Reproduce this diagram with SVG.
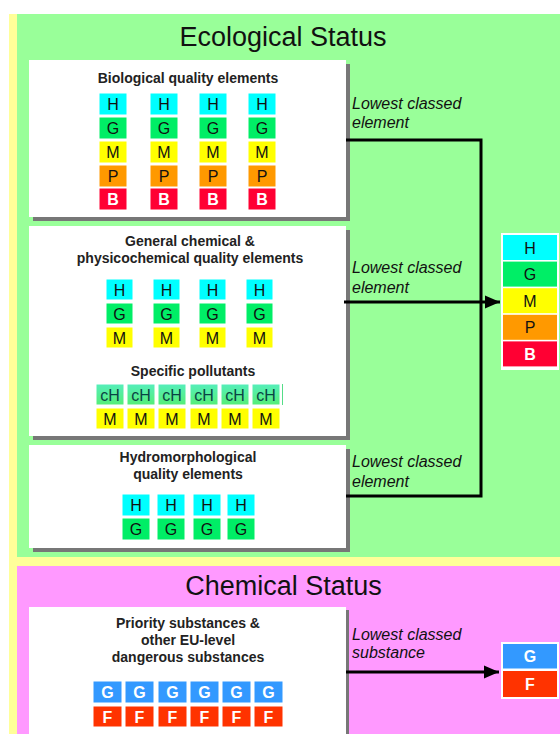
<svg xmlns="http://www.w3.org/2000/svg" width="560" height="734" viewBox="0 0 560 734">
<defs>
<linearGradient id="gh" x1="0" y1="0" x2="0" y2="1"><stop offset="0" stop-color="#55EEBB"/><stop offset="1" stop-color="#55EE77"/></linearGradient>
<marker id="ah" markerWidth="6" markerHeight="5" refX="5" refY="2.2" orient="auto" markerUnits="strokeWidth"><path d="M0,0 L5,2.2 L0,4.4 Z" fill="#000"/></marker>
</defs>
<style>
text{font-family:"Liberation Sans",Arial,sans-serif}
.title{font-size:27px;fill:#111;text-anchor:middle}
.bt{font-size:14px;font-weight:bold;fill:#222;text-anchor:middle}
.lbl{font-size:16px;font-style:italic;fill:#111}
.box{fill:#fff}
.sh{fill:#777}
.c{stroke:#fff;stroke-width:1}
.ct{font-size:16px;text-anchor:middle;fill:#111}
.cw{font-size:16px;font-weight:bold;text-anchor:middle;fill:#fff}
.H{fill:#00FFFF}.G{fill:#00EE66}.M{fill:#FFFF00}.P{fill:#FF9900}.B{fill:#FF0033}
.CG{fill:#3399FF}.CF{fill:#FF3300}.GH{fill:url(#gh)}
.conn{fill:none;stroke:#000;stroke-width:3}
</style>
<rect x="0" y="0" width="560" height="734" fill="#fff"/>
<rect x="9" y="14" width="551" height="720" fill="#FFFF99"/>
<rect id="ecoPanel" x="17" y="14" width="543" height="543" fill="#99FF99"/>
<rect id="chemPanel" x="17" y="566" width="543" height="168" fill="#FF99FF"/>
<text class="title" x="283" y="46">Ecological Status</text>
<text class="title" x="283.5" y="595">Chemical Status</text>

<g id="biological">
<rect class="sh" x="33" y="64" width="317" height="157"/>
<rect class="box" x="29" y="60" width="317" height="157"/>
<text class="bt" x="188" y="83">Biological quality elements</text>
<g>
<rect class="c H" x="99" y="93" width="28" height="22"/><rect class="c H" x="150" y="93" width="28" height="22"/><rect class="c H" x="199" y="93" width="28" height="22"/><rect class="c H" x="248" y="93" width="28" height="22"/>
<rect class="c G" x="99" y="117" width="28" height="22"/><rect class="c G" x="150" y="117" width="28" height="22"/><rect class="c G" x="199" y="117" width="28" height="22"/><rect class="c G" x="248" y="117" width="28" height="22"/>
<rect class="c M" x="99" y="141" width="28" height="22"/><rect class="c M" x="150" y="141" width="28" height="22"/><rect class="c M" x="199" y="141" width="28" height="22"/><rect class="c M" x="248" y="141" width="28" height="22"/>
<rect class="c P" x="99" y="165" width="28" height="22"/><rect class="c P" x="150" y="165" width="28" height="22"/><rect class="c P" x="199" y="165" width="28" height="22"/><rect class="c P" x="248" y="165" width="28" height="22"/>
<rect class="c B" x="99" y="188" width="28" height="22"/><rect class="c B" x="150" y="188" width="28" height="22"/><rect class="c B" x="199" y="188" width="28" height="22"/><rect class="c B" x="248" y="188" width="28" height="22"/>
<text class="ct" x="113" y="110">H</text><text class="ct" x="164" y="110">H</text><text class="ct" x="213" y="110">H</text><text class="ct" x="262" y="110">H</text>
<text class="ct" x="113" y="134">G</text><text class="ct" x="164" y="134">G</text><text class="ct" x="213" y="134">G</text><text class="ct" x="262" y="134">G</text>
<text class="ct" x="113" y="158">M</text><text class="ct" x="164" y="158">M</text><text class="ct" x="213" y="158">M</text><text class="ct" x="262" y="158">M</text>
<text class="ct" x="113" y="182">P</text><text class="ct" x="164" y="182">P</text><text class="ct" x="213" y="182">P</text><text class="ct" x="262" y="182">P</text>
<text class="cw" x="113" y="205">B</text><text class="cw" x="164" y="205">B</text><text class="cw" x="213" y="205">B</text><text class="cw" x="262" y="205">B</text>
</g>
</g>

<g id="chemical-general">
<rect class="sh" x="33" y="230" width="317" height="210"/>
<rect class="box" x="29" y="226" width="317" height="210"/>
<text class="bt" x="190" y="246">General chemical &amp;</text>
<text class="bt" x="190" y="263">physicochemical quality elements</text>
<rect class="c H" x="106" y="279" width="27" height="21"/><rect class="c H" x="153" y="279" width="27" height="21"/><rect class="c H" x="199" y="279" width="27" height="21"/><rect class="c H" x="246" y="279" width="27" height="21"/>
<rect class="c G" x="106" y="303" width="27" height="21"/><rect class="c G" x="153" y="303" width="27" height="21"/><rect class="c G" x="199" y="303" width="27" height="21"/><rect class="c G" x="246" y="303" width="27" height="21"/>
<rect class="c M" x="106" y="327" width="27" height="21"/><rect class="c M" x="153" y="327" width="27" height="21"/><rect class="c M" x="199" y="327" width="27" height="21"/><rect class="c M" x="246" y="327" width="27" height="21"/>
<text class="ct" x="119.5" y="295.5">H</text><text class="ct" x="166.5" y="295.5">H</text><text class="ct" x="212.5" y="295.5">H</text><text class="ct" x="259.5" y="295.5">H</text>
<text class="ct" x="119.5" y="319.5">G</text><text class="ct" x="166.5" y="319.5">G</text><text class="ct" x="212.5" y="319.5">G</text><text class="ct" x="259.5" y="319.5">G</text>
<text class="ct" x="119.5" y="343.5">M</text><text class="ct" x="166.5" y="343.5">M</text><text class="ct" x="212.5" y="343.5">M</text><text class="ct" x="259.5" y="343.5">M</text>
<text class="bt" x="193" y="376">Specific pollutants</text>
<rect class="c GH" x="96" y="384" width="28" height="21"/><rect class="c GH" x="127" y="384" width="28" height="21"/><rect class="c GH" x="158" y="384" width="28" height="21"/><rect class="c GH" x="190" y="384" width="28" height="21"/><rect class="c GH" x="221" y="384" width="28" height="21"/><rect class="c GH" x="252" y="384" width="28" height="21"/>
<line x1="282.5" y1="384" x2="282.5" y2="405" stroke="#55DD88" stroke-width="1"/>
<rect class="c M" x="96" y="408" width="28" height="21"/><rect class="c M" x="127" y="408" width="28" height="21"/><rect class="c M" x="158" y="408" width="28" height="21"/><rect class="c M" x="190" y="408" width="28" height="21"/><rect class="c M" x="221" y="408" width="28" height="21"/><rect class="c M" x="252" y="408" width="28" height="21"/>
<g fill="#0A4444" font-size="16" text-anchor="middle">
<text x="110" y="400.5">cH</text><text x="141" y="400.5">cH</text><text x="172" y="400.5">cH</text><text x="204" y="400.5">cH</text><text x="235" y="400.5">cH</text><text x="266" y="400.5">cH</text>
</g>
<text class="ct" x="110" y="424.5">M</text><text class="ct" x="141" y="424.5">M</text><text class="ct" x="172" y="424.5">M</text><text class="ct" x="204" y="424.5">M</text><text class="ct" x="235" y="424.5">M</text><text class="ct" x="266" y="424.5">M</text>
</g>

<g id="hydromorphological">
<rect class="sh" x="33" y="449" width="317" height="103"/>
<rect class="box" x="29" y="445" width="317" height="103"/>
<text class="bt" x="188" y="462">Hydromorphological</text>
<text class="bt" x="188" y="479">quality elements</text>
<rect class="c H" x="122" y="494" width="28" height="22"/><rect class="c H" x="157" y="494" width="28" height="22"/><rect class="c H" x="193" y="494" width="28" height="22"/><rect class="c H" x="227" y="494" width="28" height="22"/>
<rect class="c G" x="122" y="518" width="28" height="22"/><rect class="c G" x="157" y="518" width="28" height="22"/><rect class="c G" x="193" y="518" width="28" height="22"/><rect class="c G" x="227" y="518" width="28" height="22"/>
<text class="ct" x="136" y="511">H</text><text class="ct" x="171" y="511">H</text><text class="ct" x="207" y="511">H</text><text class="ct" x="241" y="511">H</text>
<text class="ct" x="136" y="535">G</text><text class="ct" x="171" y="535">G</text><text class="ct" x="207" y="535">G</text><text class="ct" x="241" y="535">G</text>
</g>

<g id="priority">
<rect class="sh" x="32" y="610" width="317" height="130"/>
<rect class="box" x="29" y="607" width="317" height="130"/>
<text class="bt" x="188" y="628">Priority substances &amp;</text>
<text class="bt" x="188" y="645">other EU-level</text>
<text class="bt" x="188" y="662">dangerous substances</text>
<rect class="c CG" x="93" y="681" width="29" height="22"/><rect class="c CG" x="125" y="681" width="29" height="22"/><rect class="c CG" x="158" y="681" width="29" height="22"/><rect class="c CG" x="190" y="681" width="29" height="22"/><rect class="c CG" x="222" y="681" width="29" height="22"/><rect class="c CG" x="254" y="681" width="29" height="22"/>
<rect class="c CF" x="93" y="706" width="29" height="21"/><rect class="c CF" x="125" y="706" width="29" height="21"/><rect class="c CF" x="158" y="706" width="29" height="21"/><rect class="c CF" x="190" y="706" width="29" height="21"/><rect class="c CF" x="222" y="706" width="29" height="21"/><rect class="c CF" x="254" y="706" width="29" height="21"/>
<text class="cw" x="107.5" y="698">G</text><text class="cw" x="139.5" y="698">G</text><text class="cw" x="172.5" y="698">G</text><text class="cw" x="204.5" y="698">G</text><text class="cw" x="236.5" y="698">G</text><text class="cw" x="268.5" y="698">G</text>
<text class="cw" x="107.5" y="722.5">F</text><text class="cw" x="139.5" y="722.5">F</text><text class="cw" x="172.5" y="722.5">F</text><text class="cw" x="204.5" y="722.5">F</text><text class="cw" x="236.5" y="722.5">F</text><text class="cw" x="268.5" y="722.5">F</text>
</g>

<g id="eco-result">
<rect x="501" y="233" width="58" height="137" fill="#fff"/>
<rect class="H" x="503" y="235" width="54" height="25"/>
<rect class="G" x="503" y="261.6" width="54" height="25"/>
<rect class="M" x="503" y="288.2" width="54" height="25"/>
<rect class="P" x="503" y="314.8" width="54" height="25"/>
<rect class="B" x="503" y="341.4" width="54" height="25"/>
<text class="ct" x="530" y="253.5">H</text>
<text class="ct" x="530" y="280">G</text>
<text class="ct" x="530" y="306.5">M</text>
<text class="ct" x="530" y="333">P</text>
<text class="cw" x="530" y="359.5">B</text>
</g>

<g id="chem-result">
<rect x="501" y="642" width="58" height="57" fill="#fff"/>
<rect class="CG" x="503" y="644" width="54" height="24.5"/>
<rect class="CF" x="503" y="671" width="54" height="26"/>
<text class="cw" x="530" y="662">G</text>
<text class="cw" x="530" y="690">F</text>
</g>

<g id="connectors">
<path class="conn" d="M346,140 H481 V496 H346"/>
<path class="conn" d="M344,302 H500" marker-end="url(#ah)"/>
<path class="conn" d="M346,672 H499" marker-end="url(#ah)"/>
<text class="lbl" x="352" y="109">Lowest classed</text>
<text class="lbl" x="352" y="128">element</text>
<text class="lbl" x="352" y="273">Lowest classed</text>
<text class="lbl" x="352" y="293">element</text>
<text class="lbl" x="352" y="467">Lowest classed</text>
<text class="lbl" x="352" y="487">element</text>
<text class="lbl" x="352" y="640">Lowest classed</text>
<text class="lbl" x="352" y="658">substance</text>
</g>
</svg>
